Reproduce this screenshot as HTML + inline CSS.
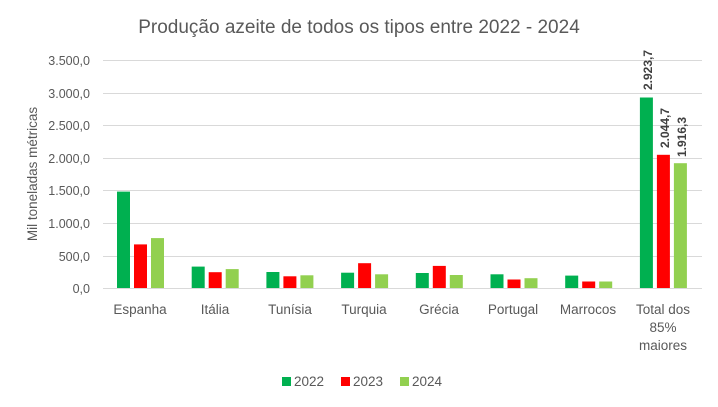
<!DOCTYPE html>
<html><head><meta charset="utf-8"><style>body{margin:0;background:#fff}svg{display:block;font-family:"Liberation Sans",sans-serif}</style></head><body>
<svg width="718" height="407" viewBox="0 0 718 407">
<text x="359" y="33" text-anchor="middle" font-size="19" fill="#595959">Produção azeite de todos os tipos entre 2022 - 2024</text>
<g stroke="#d9d9d9" stroke-width="1">
<line x1="103" x2="702" y1="60.5" y2="60.5"/><line x1="103" x2="702" y1="93.5" y2="93.5"/><line x1="103" x2="702" y1="125.5" y2="125.5"/><line x1="103" x2="702" y1="158.5" y2="158.5"/><line x1="103" x2="702" y1="190.5" y2="190.5"/><line x1="103" x2="702" y1="223.5" y2="223.5"/><line x1="103" x2="702" y1="256.5" y2="256.5"/><line x1="103" x2="702" y1="288.5" y2="288.5"/>
</g>
<g font-size="12.5" fill="#595959" text-anchor="end">
<text x="90" y="65">3.500,0</text><text x="90" y="98">3.000,0</text><text x="90" y="130">2.500,0</text><text x="90" y="163">2.000,0</text><text x="90" y="195">1.500,0</text><text x="90" y="228">1.000,0</text><text x="90" y="261">500,0</text><text x="90" y="293">0,0</text>
</g>
<text transform="translate(37,174) rotate(-90)" text-anchor="middle" font-size="13.5" fill="#595959">Mil toneladas métricas</text>
<g>
<rect x="117" y="191.6" width="13" height="96.4" fill="#00B050"/><rect x="134" y="244.4" width="13" height="43.6" fill="#FF0000"/><rect x="151" y="238.1" width="13" height="49.9" fill="#92D050"/>
<rect x="191.7" y="266.6" width="13" height="21.4" fill="#00B050"/><rect x="208.7" y="272.2" width="13" height="15.8" fill="#FF0000"/><rect x="225.7" y="269.1" width="13" height="18.9" fill="#92D050"/>
<rect x="266.4" y="272" width="13" height="16" fill="#00B050"/><rect x="283.4" y="276.3" width="13" height="11.7" fill="#FF0000"/><rect x="300.4" y="275.3" width="13" height="12.7" fill="#92D050"/>
<rect x="341.1" y="272.7" width="13" height="15.3" fill="#00B050"/><rect x="358.1" y="263.2" width="13" height="24.8" fill="#FF0000"/><rect x="375.1" y="274.3" width="13" height="13.7" fill="#92D050"/>
<rect x="415.8" y="273" width="13" height="15" fill="#00B050"/><rect x="432.8" y="265.9" width="13" height="22.1" fill="#FF0000"/><rect x="449.8" y="275" width="13" height="13" fill="#92D050"/>
<rect x="490.5" y="274.3" width="13" height="13.7" fill="#00B050"/><rect x="507.5" y="279.5" width="13" height="8.5" fill="#FF0000"/><rect x="524.5" y="278.2" width="13" height="9.8" fill="#92D050"/>
<rect x="565.2" y="275.6" width="13" height="12.4" fill="#00B050"/><rect x="582.2" y="281.5" width="13" height="6.5" fill="#FF0000"/><rect x="599.2" y="281.5" width="13" height="6.5" fill="#92D050"/>
<rect x="639.9" y="97.5" width="13" height="190.5" fill="#00B050"/><rect x="656.9" y="154.8" width="13" height="133.2" fill="#FF0000"/><rect x="673.9" y="163.2" width="13" height="124.8" fill="#92D050"/>
</g>
<g font-size="13.5" fill="#595959" text-anchor="middle">
<text x="140" y="314">Espanha</text><text x="215" y="314">Itália</text><text x="290" y="314">Tunísia</text><text x="364" y="314">Turquia</text><text x="439" y="314">Grécia</text><text x="513" y="314">Portugal</text><text x="588" y="314">Marrocos</text>
<text x="663" y="314">Total dos</text><text x="663" y="332">85%</text><text x="663" y="350">maiores</text>
</g>
<g font-size="12" font-weight="bold" fill="#404040">
<text transform="translate(652,90) rotate(-90)">2.923,7</text>
<text transform="translate(669,148) rotate(-90)">2.044,7</text>
<text transform="translate(686,157) rotate(-90)">1.916,3</text>
</g>
<g font-size="13.5" fill="#595959">
<rect x="282" y="377" width="9" height="9" fill="#00B050"/><text x="294" y="386">2022</text>
<rect x="341" y="377" width="9" height="9" fill="#FF0000"/><text x="353" y="386">2023</text>
<rect x="400" y="377" width="9" height="9" fill="#92D050"/><text x="412" y="386">2024</text>
</g>
</svg>
</body></html>
